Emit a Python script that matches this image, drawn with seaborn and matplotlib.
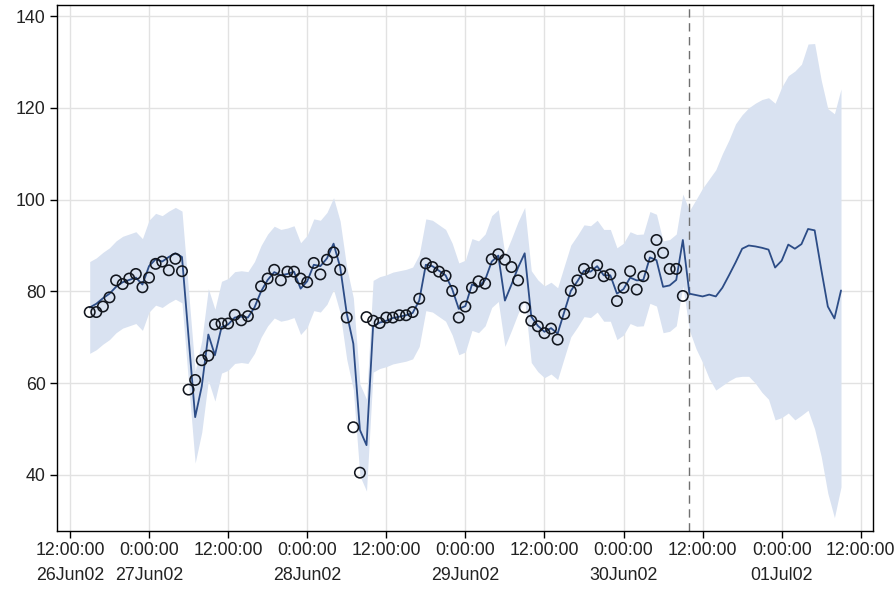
import numpy as np
import pandas as pd
import matplotlib
matplotlib.use("Agg")
import matplotlib.pyplot as plt
import seaborn as sns

# ---------------- data ----------------
obs_start = "2002-06-26 15:00"
observed = [75.5, 75.5, 76.7, 78.7, 82.4, 81.6, 82.8, 83.8, 80.9, 83.0,
            86.0, 86.5, 84.6, 87.1, 84.4, 58.6, 60.7, 65.0, 66.0, 72.8,
            73.0, 73.0, 74.9, 73.7, 74.6, 77.2, 81.1, 82.8, 84.7, 82.4,
            84.3, 84.3, 82.8, 82.0, 86.2, 83.7, 86.9, 88.5, 84.7, 74.3,
            50.4, 40.5, 74.4, 73.6, 73.1, 74.3, 74.3, 74.8, 74.8, 75.5,
            78.4, 86.1, 85.3, 84.3, 83.4, 80.1, 74.3, 76.7, 80.8, 82.2,
            81.7, 87.0, 88.1, 86.9, 85.3, 82.4, 76.5, 73.6, 72.4, 70.9,
            71.9, 69.5, 75.1, 80.1, 82.4, 84.9, 84.0, 85.7, 83.3, 83.7,
            77.9, 80.8, 84.4, 80.4, 83.3, 87.6, 91.2, 88.4, 84.9, 84.9,
            79.0]

fit_start = "2002-06-26 15:00"
predicted = [76.5, 77.3, 78.5, 79.5, 81.0, 82.0, 82.5, 83.0, 81.5, 85.5,
             87.0, 86.5, 87.5, 88.3, 87.5, 70.0, 52.6, 59.3, 70.6, 66.1,
             72.2, 72.8, 74.3, 74.5, 74.3, 76.5, 80.0, 82.5, 84.2, 83.5,
             83.8, 84.3, 80.6, 82.2, 85.8, 85.5, 87.2, 90.4, 85.3, 75.2,
             68.6, 49.8, 46.5, 72.4, 73.2, 73.6, 74.2, 74.5, 74.8, 75.3,
             78.0, 85.8, 85.5, 84.5, 83.5, 80.5, 76.2, 76.8, 81.5, 81.0,
             82.5, 86.5, 87.8, 78.0, 81.5, 85.2, 88.3, 74.5, 72.5, 71.2,
             72.0, 70.8, 75.5, 80.1, 82.2, 84.5, 84.3, 85.5, 83.5, 83.5,
             79.5, 80.5, 83.0, 82.4, 82.5, 87.4, 86.8, 81.0, 81.3, 82.5,
             91.2,
             79.5, 79.2, 78.9, 79.3, 78.9, 80.8, 83.5, 86.3, 89.3, 90.0,
             89.8, 89.5, 89.1, 85.2, 86.7, 90.2, 89.3, 90.3, 93.6, 93.3,
             84.8, 76.7, 74.1, 80.2]

lower = [66.5, 67.3, 68.5, 69.5, 71.0, 72.0, 72.5, 73.0, 71.5, 75.5,
         77.0, 76.5, 77.5, 78.3, 77.5, 60.0, 42.6, 49.3, 60.6, 56.1,
         62.2, 62.8, 64.3, 64.5, 64.3, 66.5, 70.0, 72.5, 74.2, 73.5,
         73.8, 74.3, 70.6, 72.2, 75.8, 75.5, 77.2, 80.4, 75.3, 65.2,
         58.6, 39.8, 36.5, 62.4, 63.2, 63.6, 64.2, 64.5, 64.8, 65.3,
         68.0, 75.8, 75.5, 74.5, 73.5, 70.5, 66.2, 66.8, 71.5, 71.0,
         72.5, 76.5, 77.8, 68.0, 71.5, 75.2, 78.3, 64.5, 62.5, 61.2,
         62.0, 60.8, 65.5, 70.1, 72.2, 74.5, 74.3, 75.5, 73.5, 73.5,
         69.5, 70.5, 73.0, 72.4, 72.5, 77.4, 76.8, 71.0, 71.3, 72.5,
         81.2,
         71.5, 67.5, 64.5, 61.0, 58.5, 59.5, 60.5, 61.3, 61.5, 61.5,
         60.0, 58.0, 56.5, 52.0, 52.5, 53.5, 52.0, 53.0, 54.1, 50.0,
         44.0, 36.0, 30.7, 37.4]

upper = [86.5, 87.3, 88.5, 89.5, 91.0, 92.0, 92.5, 93.0, 91.5, 95.5,
         97.0, 96.5, 97.5, 98.3, 97.5, 80.0, 62.6, 69.3, 80.6, 76.1,
         82.2, 82.8, 84.3, 84.5, 84.3, 86.5, 90.0, 92.5, 94.2, 93.5,
         93.8, 94.3, 90.6, 92.2, 95.8, 95.5, 97.2, 100.4, 95.3, 85.2,
         78.6, 59.8, 56.5, 82.4, 83.2, 83.6, 84.2, 84.5, 84.8, 85.3,
         88.0, 95.8, 95.5, 94.5, 93.5, 90.5, 86.2, 86.8, 91.5, 91.0,
         92.5, 96.5, 97.8, 88.0, 91.5, 95.2, 98.3, 84.5, 82.5, 81.2,
         82.0, 80.8, 85.5, 90.1, 92.2, 94.5, 94.3, 95.5, 93.5, 93.5,
         89.5, 90.5, 93.0, 92.4, 92.5, 97.4, 96.8, 91.0, 91.3, 92.5,
         101.2,
         97.6, 100.0, 102.5, 104.5, 106.5, 110.0, 113.0, 116.5, 118.5, 120.0,
         121.0, 121.8, 122.2, 121.0, 124.5, 127.0, 128.0, 129.5, 133.9, 134.0,
         126.0, 119.8, 118.7, 124.1]

forecast_start = "2002-06-30 10:00"

x_ticks = ["2002-06-26 12:00", "2002-06-27 00:00", "2002-06-27 12:00",
           "2002-06-28 00:00", "2002-06-28 12:00", "2002-06-29 00:00",
           "2002-06-29 12:00", "2002-06-30 00:00", "2002-06-30 12:00",
           "2002-07-01 00:00", "2002-07-01 12:00"]
x_tick_labels = ["12:00:00\n26Jun02", "0:00:00\n27Jun02", "12:00:00",
                 "0:00:00\n28Jun02", "12:00:00", "0:00:00\n29Jun02",
                 "12:00:00", "0:00:00\n30Jun02", "12:00:00",
                 "0:00:00\n01Jul02", "12:00:00"]
y_ticks = [40, 60, 80, 100, 120, 140]
x_limits = ["2002-06-26 10:02", "2002-07-01 13:51"]
y_limits = [27.8, 142.4]

# ---------------- frames ----------------
obs_df = pd.DataFrame({
    "time": pd.date_range(obs_start, periods=len(observed), freq="h"),
    "value": observed})
fit_df = pd.DataFrame({
    "time": pd.date_range(fit_start, periods=len(predicted), freq="h"),
    "value": predicted, "lower": lower, "upper": upper})

# ---------------- plot ----------------
sns.set_style("white")
plt.rcParams["font.family"] = ["Liberation Sans", "DejaVu Sans"]

fig = plt.figure(figsize=(8.96, 5.94), dpi=100)
ax = fig.add_axes([0.0636, 0.1061, 0.9107, 0.8855])

ax.fill_between(fit_df["time"], fit_df["lower"], fit_df["upper"],
                color="#d9e2f1", linewidth=0, zorder=1)
sns.lineplot(data=fit_df, x="time", y="value", ax=ax, color="#2c4c86",
             linewidth=1.3, zorder=3)
sns.scatterplot(data=obs_df, x="time", y="value", ax=ax, marker="o",
                s=56, facecolor="none", edgecolor="#12161e", linewidth=1.15,
                zorder=4)
ax.axvline(pd.Timestamp(forecast_start), color="#707070", linewidth=1.0,
           linestyle=(0, (6, 4)), zorder=2)

ax.set_xlim(pd.Timestamp(x_limits[0]), pd.Timestamp(x_limits[1]))
ax.set_ylim(*y_limits)
ax.set_xticks([pd.Timestamp(t) for t in x_ticks])
ax.set_xticklabels(x_tick_labels, linespacing=1.62)
ax.set_yticks(y_ticks)
ax.set_yticklabels([str(v) for v in y_ticks])
ax.set_xlabel("")
ax.set_ylabel("")

ax.grid(True, color="#e2e2e2", linewidth=1.0, zorder=0)
ax.set_axisbelow(True)
for sp in ax.spines.values():
    sp.set_color("#000000")
    sp.set_linewidth(1.0)
ax.tick_params(axis="both", direction="out", length=5, width=1,
               color="#000000", labelsize=12.8, labelcolor="#222222",
               bottom=True, left=True, pad=3)

fig.savefig("out.png", dpi=100)
